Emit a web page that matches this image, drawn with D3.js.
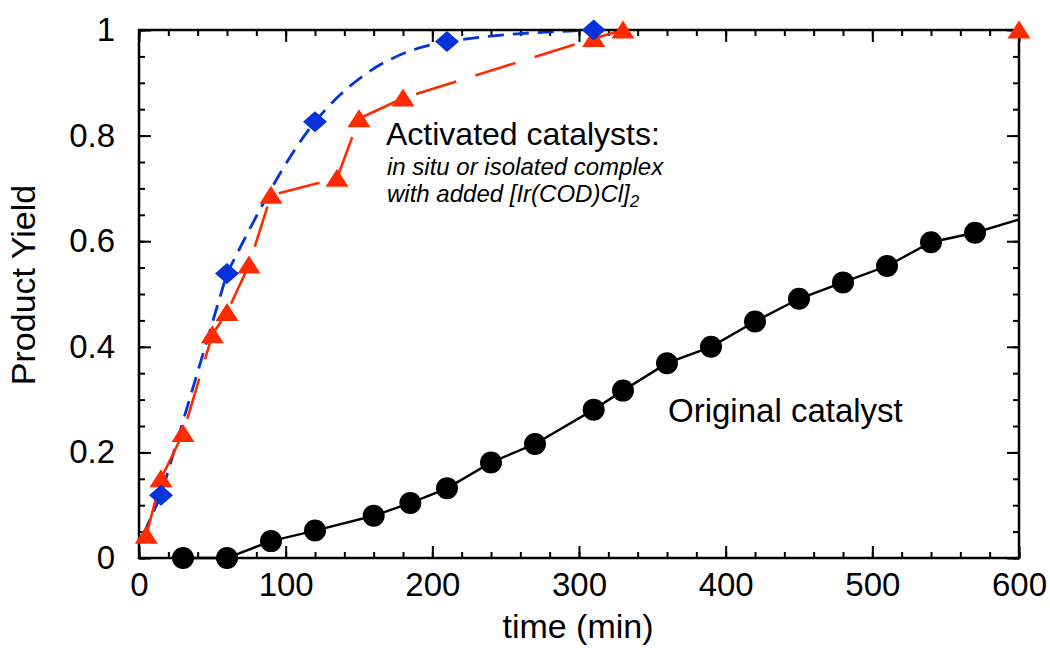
<!DOCTYPE html>
<html>
<head>
<meta charset="utf-8">
<script src="https://cdn.jsdelivr.net/npm/d3@7/dist/d3.min.js"></script>
<style>
  html, body { margin: 0; padding: 0; background: #fff; }
  svg { display: block; font-family: "Liberation Sans", Arial, Helvetica, sans-serif; }
</style>
</head>
<body>
<svg id="chart" width="1050" height="660"></svg>
<script>
// ---- data ----
const originalTime  = [30, 60, 90, 120, 160, 185, 210, 240, 270, 310, 330, 360, 390, 420, 450, 480, 510, 540, 570, 630];
const originalYield = [0, 0, 0.032, 0.052, 0.080, 0.104, 0.132, 0.181, 0.216, 0.281, 0.317, 0.369, 0.400, 0.448, 0.491, 0.522, 0.553, 0.598, 0.616, 0.666];

const isolatedTime  = [5, 15, 30, 50, 60, 75, 90, 135, 150, 180, 310, 330, 600];
const isolatedYield = [0.043, 0.150, 0.236, 0.423, 0.465, 0.555, 0.687, 0.719, 0.832, 0.871, 0.984, 1.0, 1.0];
const isolatedConnected = [true, true, true, true, true, true, true, true, true, true, true, true, false];

const insituTime  = [3, 15, 60, 120, 210, 310];
const insituYield = [0.045, 0.119, 0.539, 0.826, 0.978, 1.0];
const insituMarked = [false, true, true, true, true, true];

const xTicks = [0, 100, 200, 300, 400, 500, 600];
const xTickLabels = ["0", "100", "200", "300", "400", "500", "600"];
const yTicks = [0, 0.2, 0.4, 0.6, 0.8, 1];
const yTickLabels = ["0", "0.2", "0.4", "0.6", "0.8", "1"];
const xMinor = d3.range(0, 601, 20);
const yMinor = d3.range(0, 1.0001, 0.05);

// ---- layout ----
const L = 139, R = 1019, T = 30, B = 558;
const svg = d3.select("#chart");
const x = d3.scaleLinear().domain([0, 600]).range([L, R]);
const y = d3.scaleLinear().domain([0, 1]).range([B, T]);

const RED = "#ff2a00", BLUE = "#0533d8";

svg.append("defs").append("clipPath").attr("id", "plotclip")
  .append("rect").attr("x", L).attr("y", T - 20).attr("width", R - L).attr("height", B - T + 40);

// ---- axes ----
function styleAxis(g) {
  g.select(".domain").remove();
  g.selectAll(".tick line").attr("stroke", "#000").attr("stroke-width", 2);
  g.selectAll(".tick text").attr("fill", "#000").style("font-size", "33px")
    .style("font-family", '"Liberation Sans", Arial, Helvetica, sans-serif');
}
// bottom
svg.append("g").attr("transform", `translate(0,${B})`)
  .call(d3.axisBottom(x).tickValues(xMinor).tickSize(-6).tickFormat("")).call(styleAxis);
svg.append("g").attr("transform", `translate(0,${B})`)
  .call(d3.axisBottom(x).tickValues(xTicks).tickSize(-12).tickPadding(15)
    .tickFormat((d, i) => xTickLabels[i])).call(styleAxis);
// top
svg.append("g").attr("transform", `translate(0,${T})`)
  .call(d3.axisTop(x).tickValues(xMinor).tickSize(-6).tickFormat("")).call(styleAxis);
svg.append("g").attr("transform", `translate(0,${T})`)
  .call(d3.axisTop(x).tickValues(xTicks).tickSize(-12).tickFormat("")).call(styleAxis);
// left
svg.append("g").attr("transform", `translate(${L},0)`)
  .call(d3.axisLeft(y).tickValues(yMinor).tickSize(-6).tickFormat("")).call(styleAxis);
svg.append("g").attr("transform", `translate(${L},0)`)
  .call(d3.axisLeft(y).tickValues(yTicks).tickSize(-12).tickPadding(24)
    .tickFormat((d, i) => yTickLabels[i])).call(styleAxis);
// right
svg.append("g").attr("transform", `translate(${R},0)`)
  .call(d3.axisRight(y).tickValues(yMinor).tickSize(-6).tickFormat("")).call(styleAxis);
svg.append("g").attr("transform", `translate(${R},0)`)
  .call(d3.axisRight(y).tickValues(yTicks).tickSize(-12).tickFormat("")).call(styleAxis);

// axis titles
svg.append("text").attr("x", (L + R) / 2 - 1).attr("y", 638).attr("text-anchor", "middle")
  .style("font-size", "34px").text("time (min)");
svg.append("text").attr("transform", `translate(35,285) rotate(-90)`)
  .attr("text-anchor", "middle").style("font-size", "34px").text("Product Yield");

// ---- series ----
const lines = svg.append("g").attr("clip-path", "url(#plotclip)");

const orig = originalTime.map((t, i) => [t, originalYield[i]]);
const iso = isolatedTime.map((t, i) => [t, isolatedYield[i]]);
const ins = insituTime.map((t, i) => [t, insituYield[i]]);

lines.append("path").datum(orig)
  .attr("d", d3.line().x(d => x(d[0])).y(d => y(d[1])))
  .attr("fill", "none").attr("stroke", "#000").attr("stroke-width", 2.4);

// blue: straight start segments, smooth upper part
const blueLin = d3.line().x(d => x(d[0])).y(d => y(d[1]));
const blueSm = d3.line().x(d => x(d[0])).y(d => y(d[1])).curve(d3.curveMonotoneX);
const blueG = lines.append("g").attr("fill", "none").attr("stroke", BLUE)
  .attr("stroke-width", 2.8).attr("stroke-dasharray", "16,9");
blueG.append("path").attr("d", blueLin(ins.slice(0, 3)));
blueG.append("path").attr("d", blueSm(ins.slice(2)));

lines.append("path").datum(iso.filter((d, i) => isolatedConnected[i]))
  .attr("d", d3.line().x(d => x(d[0])).y(d => y(d[1])))
  .attr("fill", "none").attr("stroke", RED).attr("stroke-width", 2.6)
  .attr("stroke-dasharray", "42,20");

// frame
svg.append("rect").attr("x", L).attr("y", T).attr("width", R - L).attr("height", B - T)
  .attr("fill", "none").attr("stroke", "#000").attr("stroke-width", 2.5);

// markers
svg.append("g").selectAll("circle").data(orig.filter(d => d[0] <= 600)).join("circle")
  .attr("cx", d => x(d[0])).attr("cy", d => y(d[1])).attr("r", 11).attr("fill", "#000");

svg.append("g").selectAll("path").data(iso).join("path")
  .attr("d", "M0,-9.5L11.5,8.5L-11.5,8.5Z")
  .attr("transform", d => `translate(${x(d[0])},${y(d[1])})`)
  .attr("fill", RED);

svg.append("g").selectAll("path").data(ins.filter((d, i) => insituMarked[i])).join("path")
  .attr("d", "M0,-10.5L12,0L0,10.5L-12,0Z")
  .attr("transform", d => `translate(${x(d[0])},${y(d[1])})`)
  .attr("fill", BLUE);

// annotations
svg.append("text").attr("x", 386).attr("y", 145).style("font-size", "32px").text("Activated catalysts:");
const it = svg.append("g").style("font-size", "24px").style("font-style", "italic");
it.append("text").attr("x", 387).attr("y", 175).text("in situ or isolated complex");
const t2 = it.append("text").attr("x", 387).attr("y", 202);
t2.append("tspan").text("with added [Ir(COD)Cl]");
t2.append("tspan").attr("dy", 5).style("font-size", "17px").text("2");

svg.append("text").attr("x", 668).attr("y", 422).style("font-size", "33px").text("Original catalyst");
</script>
</body>
</html>
